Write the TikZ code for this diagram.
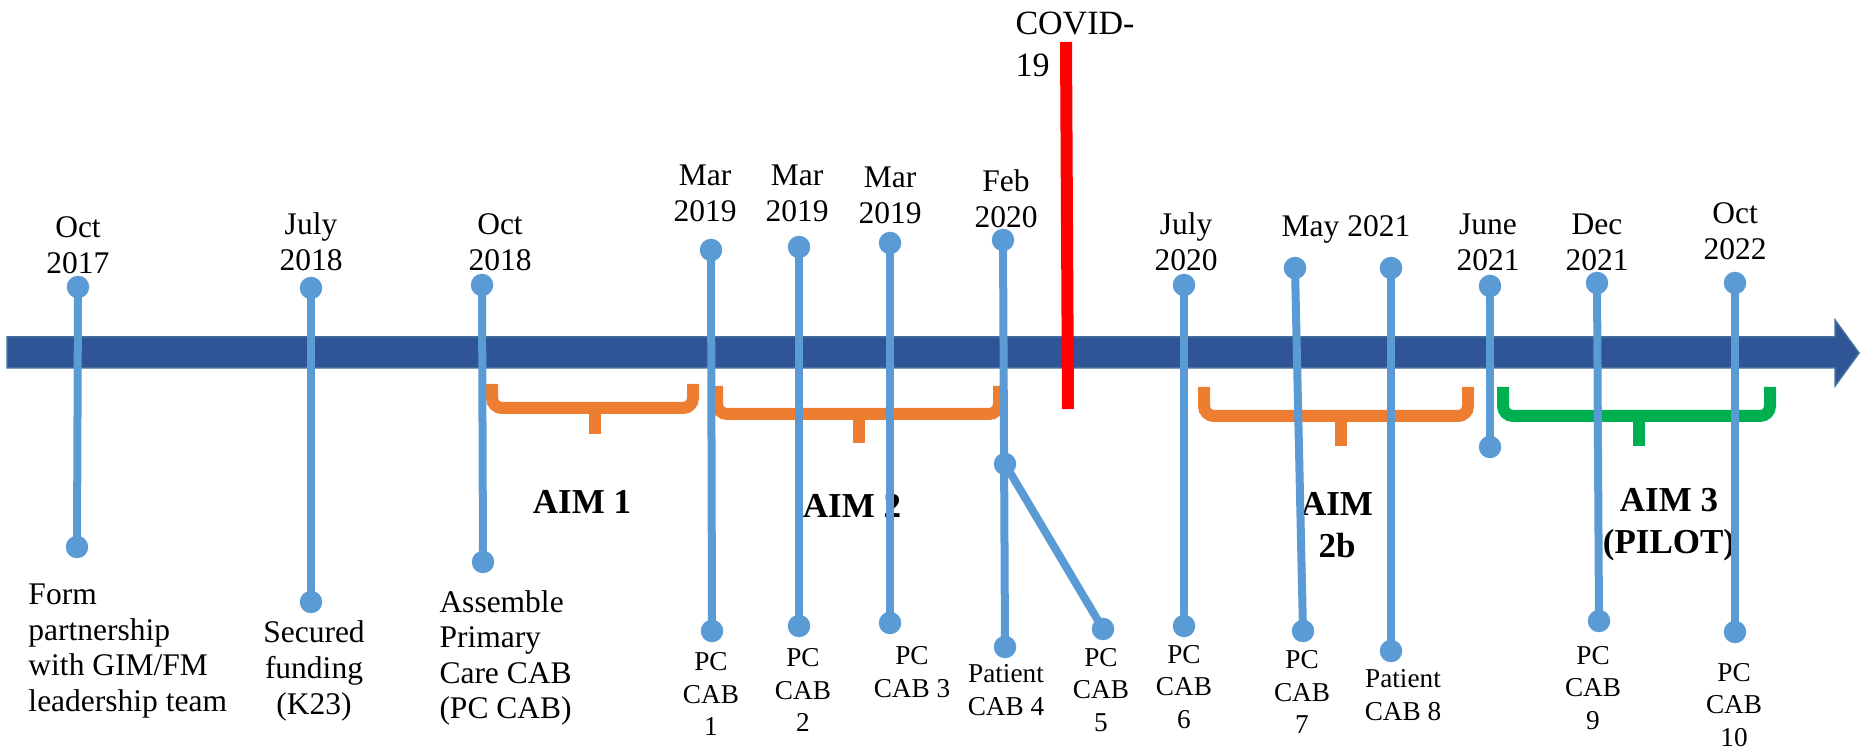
\documentclass[tikz,border=0pt]{standalone}
\usepackage{fontspec}
\setmainfont{Liberation Serif}
\definecolor{shaftblue}{HTML}{2F5597}
\definecolor{shaftedge}{HTML}{41719C}
\definecolor{evblue}{HTML}{5B9BD5}
\definecolor{aimorange}{HTML}{ED7D31}
\definecolor{aimgreen}{HTML}{00B050}
\definecolor{covidred}{HTML}{FF0000}
\tikzset{
  evline/.style={draw=evblue, line width=3.2pt},
  evdot/.style={circle, fill=evblue, inner sep=0pt, minimum size=9pt},
  bracestroke/.style={line width=4.8pt, rounded corners=4pt},
  tipstroke/.style={line width=4.8pt},
  datelbl/.style={align=center, inner sep=0pt, font=\fontsize{12.6}{14.4}\selectfont},
  textlbl/.style={align=left, inner sep=0pt, anchor=west, font=\fontsize{12.6}{14.2}\selectfont},
  cablbl/.style={align=center, inner sep=0pt, font=\fontsize{10.9}{13}\selectfont},
  aimlbl/.style={align=center, inner sep=0pt, font=\bfseries\fontsize{14}{16.8}\selectfont},
}
\begin{document}
\begin{tikzpicture}[x=0.4pt, y=-0.4pt]
\useasboundingbox (0,0) rectangle (1860,751);
% main arrow
\filldraw[fill=shaftblue, draw=shaftedge, line width=0.6pt]
  (7,337) -- (1835,337) -- (1835,320) -- (1859,353) -- (1835,386) -- (1835,368) -- (7,368) -- cycle;

% braces
\draw[bracestroke, aimorange] (492,384) |- (693,408) -- (693,384);
\draw[tipstroke, aimorange] (595,406) -- (595,434);
\draw[bracestroke, aimorange] (717,386) |- (999,414) -- (999,386);
\draw[tipstroke, aimorange] (859,412) -- (859,443);
\draw[bracestroke, aimorange] (1204,387) |- (1468,416) -- (1468,387);
\draw[tipstroke, aimorange] (1341,414) -- (1341,446);
\draw[bracestroke, aimgreen] (1503,387) |- (1770,416) -- (1770,387);
\draw[tipstroke, aimgreen] (1639,414) -- (1639,446);

% AIM labels
\node[aimlbl] (aim1) at (582,502) {AIM 1};
\node[aimlbl] (aim2) at (852,506) {AIM 2};
\node[aimlbl] (aim2b) at (1337,525) {AIM\\2b};
\node[aimlbl] (aim3) at (1669,525) {AIM 3\\(PILOT)};

% event dots
\node[evdot] (t1) at (78,287) {};
\node[evdot] (b1) at (77,547) {};
\node[evdot] (t2) at (311,288) {};
\node[evdot] (b2) at (311,602) {};
\node[evdot] (t3) at (482,285) {};
\node[evdot] (b3) at (483,562) {};
\node[evdot] (t4) at (711,250) {};
\node[evdot] (b4) at (712,631) {};
\node[evdot] (t5) at (799,247) {};
\node[evdot] (b5) at (799,626) {};
\node[evdot] (t6) at (890,243) {};
\node[evdot] (b6) at (890,623) {};
\node[evdot] (t7) at (1003,240) {};
\node[evdot] (m7) at (1005,464) {};
\node[evdot] (b7) at (1005,647) {};
\node[evdot] (b8) at (1103,629) {};
\node[evdot] (t9) at (1184,285) {};
\node[evdot] (b9) at (1184,626) {};
\node[evdot] (t10) at (1295,268) {};
\node[evdot] (b10) at (1303,631) {};
\node[evdot] (t11) at (1391,268) {};
\node[evdot] (b11) at (1391,651) {};
\node[evdot] (t12) at (1490,286) {};
\node[evdot] (b12) at (1490,447) {};
\node[evdot] (t13) at (1597,283) {};
\node[evdot] (b13) at (1599,621) {};
\node[evdot] (t14) at (1735,283) {};
\node[evdot] (b14) at (1735,632) {};

% event lines
\draw[evline] (t1.center) -- (b1.center);
\draw[evline] (t2.center) -- (b2.center);
\draw[evline] (t3.center) -- (b3.center);
\draw[evline] (t4.center) -- (b4.center);
\draw[evline] (t5.center) -- (b5.center);
\draw[evline] (t6.center) -- (b6.center);
\draw[evline] (t7.center) -- (b7.center);
\draw[evline] (m7.center) -- (b8.center);
\draw[evline] (t9.center) -- (b9.center);
\draw[evline] (t10.center) -- (b10.center);
\draw[evline] (t11.center) -- (b11.center);
\draw[evline] (t12.center) -- (b12.center);
\draw[evline] (t13.center) -- (b13.center);
\draw[evline] (t14.center) -- (b14.center);

% COVID line
\coordinate (covtop) at (1066,42);
\coordinate (covbot) at (1068,409);
\draw[covidred, line width=4.8pt] (covtop) -- (covbot);
\node[textlbl, font=\fontsize{13.6}{16.8}\selectfont] (covid) at (1015,44) {COVID-\\19};

% date labels
\node[datelbl] (d1) at (78,245) {Oct\\2017};
\node[datelbl] (d2) at (311,242) {July\\2018};
\node[datelbl] (d3) at (500,242) {Oct\\2018};
\node[datelbl] (d4) at (705,193) {Mar\\2019};
\node[datelbl] (d5) at (797,193) {Mar\\2019};
\node[datelbl] (d6) at (890,195) {Mar\\2019};
\node[datelbl] (d7) at (1006,199) {Feb\\2020};
\node[datelbl] (d9) at (1186,242) {July\\2020};
\node[datelbl] (d10) at (1346,229) {May 2021};
\node[datelbl] (d12) at (1488,242) {June\\2021};
\node[datelbl] (d13) at (1597,242) {Dec\\2021};
\node[datelbl] (d14) at (1735,231) {Oct\\2022};

% bottom texts
\node[textlbl] (x1) at (28,651) {Form\\partnership\\with GIM/FM\\leadership team};
\node[datelbl] (x2) at (314,671) {Secured\\funding\\(K23)};
\node[textlbl] (x3) at (439,658) {Assemble\\Primary\\Care CAB\\(PC CAB)};
\node[cablbl] (c1) at (711,694) {PC\\CAB\\1};
\node[cablbl] (c2) at (803,690) {PC\\CAB\\2};
\node[cablbl] (c3) at (912,672) {PC\\CAB 3};
\node[cablbl] (c4) at (1006,690) {Patient\\CAB 4};
\node[cablbl] (c5) at (1101,690) {PC\\CAB\\5};
\node[cablbl] (c6) at (1184,687) {PC\\CAB\\6};
\node[cablbl] (c7) at (1302,692) {PC\\CAB\\7};
\node[cablbl] (c8) at (1403,695) {Patient\\CAB 8};
\node[cablbl] (c9) at (1593,688) {PC\\CAB\\9};
\node[cablbl] (c10) at (1734,705) {PC\\CAB\\10};
\end{tikzpicture}
\end{document}
